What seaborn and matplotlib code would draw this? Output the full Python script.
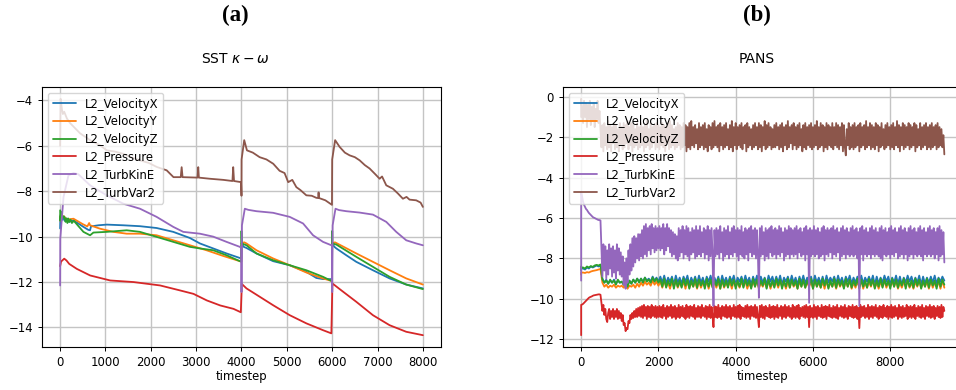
import numpy as np
import pandas as pd
import matplotlib
matplotlib.use("Agg")
import matplotlib.pyplot as plt
import seaborn as sns

# ---------------- data ----------------
series_names = ["L2_VelocityX", "L2_VelocityY", "L2_VelocityZ",
                "L2_Pressure", "L2_TurbKinE", "L2_TurbVar2"]
colors = ["#1f77b4", "#ff7f0e", "#2ca02c", "#d62728", "#9467bd", "#8c564b"]

# (a) SST k-omega : (timestep, value) pairs
vx_a_t = [0, 5, 30, 60, 100, 150, 200, 294, 514, 620, 660, 680, 844, 1028, 1394, 1761, 2128, 2495,
          2862, 3083, 3376, 3670, 3963, 3995, 4000, 4050, 4110, 4330, 4697, 5064, 5431, 5651, 5798,
          5982, 5995, 6000, 6050, 6092, 6312, 6532, 6899, 7266, 7633, 8000]
vx_a_v = [-9.64, -9.1, -9.3, -9.15, -9.3, -9.2, -9.35, -9.28, -9.57, -9.7, -9.72, -9.55, -9.5, -9.47,
          -9.5, -9.54, -9.62, -9.79, -10.06, -10.3, -10.52, -10.74, -10.94, -10.96, -10.3, -10.45,
          -10.5, -10.74, -11.08, -11.26, -11.55, -11.82, -11.87, -11.87, -11.88, -10.3, -10.45,
          -10.52, -10.82, -11.11, -11.48, -11.84, -12.11, -12.28]

vy_a_t = [0, 5, 40, 80, 150, 294, 500, 600, 640, 660, 880, 1174, 1468, 1761, 2128, 2495, 2862, 3229,
          3596, 3963, 3995, 4000, 4060, 4110, 4330, 4697, 5064, 5431, 5798, 5982, 5995, 6000, 6060,
          6110, 6532, 6899, 7266, 7633, 8000]
vy_a_v = [-9.3, -9.1, -9.2, -9.1, -9.25, -9.21, -9.45, -9.55, -9.4, -9.5, -9.65, -9.79, -9.87, -9.87,
          -9.94, -10.16, -10.38, -10.6, -10.85, -11.08, -11.1, -10.3, -10.25, -10.3, -10.6, -10.96,
          -11.26, -11.58, -11.84, -11.95, -11.96, -10.3, -10.25, -10.3, -10.74, -11.11, -11.48,
          -11.84, -12.11]

vz_a_t = [0, 5, 20, 50, 80, 100, 120, 140, 160, 180, 200, 230, 260, 300, 514, 660, 734, 1028, 1468,
          1761, 2128, 2495, 2862, 3083, 3376, 3670, 3963, 3995, 4000, 4005, 4110, 4330, 4697, 5064,
          5431, 5798, 5982, 5995, 6000, 6005, 6092, 6532, 6899, 7266, 7633, 8000]
vz_a_v = [-8.84, -9.3, -8.9, -9.2, -9.1, -9.15, -9.35, -9.2, -9.4, -9.2, -9.35, -9.25, -9.4, -9.3,
          -9.79, -9.94, -9.82, -9.79, -9.72, -9.79, -10.01, -10.23, -10.45, -10.52, -10.6, -10.82,
          -11.08, -11.1, -9.75, -10.3, -10.38, -10.74, -11.04, -11.26, -11.48, -11.77, -11.95,
          -11.96, -9.75, -10.3, -10.35, -10.89, -11.33, -11.77, -12.11, -12.31]

p_a_t = [0, 20, 90, 140, 200, 368, 662, 1103, 1618, 2206, 2647, 2941, 3236, 3530, 3823, 3985, 4000,
         4005, 4110, 4404, 4697, 5064, 5431, 5798, 5982, 6000, 6005, 6165, 6532, 6899, 7266, 7633, 8000]
p_a_v = [-11.3, -11.1, -10.97, -11.05, -11.2, -11.42, -11.71, -11.93, -12.0, -12.15, -12.37, -12.52,
         -12.81, -13.03, -13.18, -13.33, -12.5, -12.08, -12.28, -12.65, -13.02, -13.46, -13.82, -14.12,
         -14.26, -12.5, -12.06, -12.31, -12.87, -13.46, -13.9, -14.19, -14.34]

tke_a_t = [0, 3, 74, 184, 294, 400, 661, 1028, 1394, 1761, 2128, 2495, 2716, 3083, 3376, 3670, 3963,
           3995, 4000, 4010, 4073, 4150, 4330, 4697, 5064, 5358, 5578, 5798, 5982, 5995, 6000, 6010,
           6073, 6150, 6312, 6606, 6899, 7193, 7413, 7633, 7853, 8000]
tke_a_v = [-12.15, -10.1, -8.26, -7.3, -7.2, -7.25, -7.74, -8.18, -8.55, -8.77, -9.13, -9.57, -9.79,
           -9.87, -10.0, -10.23, -10.45, -10.5, -12.44, -9.5, -8.77, -8.82, -8.88, -8.95, -9.13, -9.42,
           -9.94, -10.23, -10.38, -10.4, -12.44, -9.5, -8.77, -8.83, -8.88, -8.94, -9.03, -9.35,
           -9.79, -10.16, -10.3, -10.38]

tv2_a_t = [0, 10, 40, 60, 90, 150, 220, 440, 660, 880, 1030, 1200, 1390, 1560, 1760, 1950, 2130, 2350,
           2500, 2660, 2680, 2700, 3030, 3046, 3060, 3300, 3600, 3800, 3817, 3835, 3990, 4000, 4002,
           4060, 4120, 4250, 4400, 4550, 4700, 4840, 4950, 5030, 5120, 5210, 5300, 5430, 5550, 5650,
           5690, 5700, 5710, 5850, 5995, 6000, 6065, 6165, 6280, 6385, 6500, 6606, 6720, 6826, 6950,
           7046, 7100, 7193, 7339, 7450, 7560, 7640, 7706, 7853, 7950, 8000]
tv2_a_v = [-6.0, -3.93, -4.4, -4.6, -4.5, -4.8, -5.0, -5.45, -5.75, -5.98, -6.2, -6.25, -6.35, -6.5,
           -6.64, -6.75, -6.93, -7.08, -7.38, -7.38, -6.94, -7.38, -7.4, -6.94, -7.4, -7.45, -7.5,
           -7.55, -6.94, -7.55, -7.6, -8.2, -6.6, -5.75, -6.2, -6.3, -6.5, -6.6, -6.79, -7.1, -7.2,
           -7.6, -7.5, -7.82, -7.95, -8.18, -8.2, -8.29, -8.3, -8.05, -8.3, -8.4, -8.6, -6.6, -5.75,
           -6.05, -6.3, -6.42, -6.5, -6.64, -6.85, -7.0, -7.25, -7.45, -7.35, -7.74, -7.89, -8.1,
           -8.33, -8.25, -8.37, -8.4, -8.5, -8.69]

# (b) PANS : velocities sampled every 50 timesteps, the others every 25
# (each list holds two values at timestep 0: before and after the first jump)
timesteps_b50 = [0] + list(range(0, 9401, 50))
timesteps_b25 = [0] + list(range(0, 9401, 25))

vx_b = [-8.6, -8.5,
        -8.5, -8.55, -8.45, -8.5, -8.4, -8.45, -8.4, -8.35, -8.4, -8.35,
        -9.0, -9.2, -9.05, -9.25, -9.1, -9.2, -9.05, -9.25, -9.1, -9.2,
        -9.15, -9.3, -9.2, -9.35, -9.1, -9.25, -9.05, -9.2, -9.0, -9.15,
        -9.0, -9.15, -8.95, -9.1, -9.0, -9.15, -8.9, -9.1, -8.95, -9.15,
        -8.9, -9.2, -8.85, -9.25, -8.95, -9.15, -8.9, -9.3, -8.85, -9.2,
        -8.95, -9.25, -8.9, -9.15, -8.85, -9.3, -8.95, -9.2, -8.9, -9.25,
        -8.85, -9.2, -8.95, -9.3, -8.9, -9.15, -8.85, -9.25, -8.95, -9.2,
        -8.9, -9.3, -8.85, -9.2, -8.95, -9.25, -8.9, -9.15, -8.85, -9.3,
        -8.95, -9.15, -8.9, -9.25, -8.85, -9.2, -8.95, -9.3, -8.9, -9.2,
        -8.85, -9.25, -8.9, -9.2, -8.95, -9.3, -8.85, -9.15, -8.9, -9.25,
        -8.9, -9.2, -8.85, -9.3, -8.95, -9.15, -8.9, -9.25, -8.85, -9.2,
        -8.95, -9.3, -8.9, -9.2, -8.85, -9.25, -8.95, -9.15, -8.9, -9.3,
        -8.85, -9.2, -8.95, -9.25, -8.9, -9.3, -8.85, -9.2, -8.95, -9.15,
        -8.9, -9.25, -8.85, -9.2, -8.95, -9.3, -8.9, -9.15, -8.85, -9.25,
        -8.95, -9.2, -8.9, -9.3, -8.85, -9.25, -8.95, -9.15, -8.9, -9.2,
        -8.85, -9.3, -8.9, -9.25, -8.95, -9.2, -8.85, -9.15, -8.9, -9.3,
        -8.95, -9.2, -8.85, -9.25, -8.9, -9.3, -8.95, -9.2, -8.85, -9.15,
        -8.9, -9.25, -8.95, -9.2, -8.85, -9.3, -8.9, -9.25, -8.95, -9.2,
        -8.9, -9.2, -8.85, -9.25, -8.95, -9.15, -8.9, -9.1]

vy_b = [-8.8, -8.7,
        -8.7, -8.72, -8.68, -8.7, -8.65, -8.62, -8.6, -8.58, -8.55, -8.52,
        -9.2, -9.4, -9.3, -9.45, -9.35, -9.4, -9.3, -9.45, -9.35, -9.4,
        -9.35, -9.45, -9.3, -9.5, -9.35, -9.4, -9.3, -9.45, -9.25, -9.4,
        -9.2, -9.35, -9.15, -9.3, -9.2, -9.35, -9.1, -9.3, -9.15, -9.35,
        -9.15, -9.45, -9.1, -9.4, -9.2, -9.5, -9.15, -9.4, -9.1, -9.45,
        -9.2, -9.4, -9.15, -9.5, -9.1, -9.45, -9.2, -9.4, -9.15, -9.5,
        -9.1, -9.45, -9.2, -9.4, -9.15, -9.5, -9.1, -9.4, -9.2, -9.45,
        -9.15, -9.5, -9.1, -9.45, -9.2, -9.4, -9.15, -9.5, -9.1, -9.4,
        -9.2, -9.45, -9.15, -9.4, -9.1, -9.5, -9.2, -9.45, -9.15, -9.4,
        -9.1, -9.5, -9.2, -9.4, -9.15, -9.45, -9.1, -9.5, -9.2, -9.4,
        -9.15, -9.45, -9.1, -9.4, -9.2, -9.5, -9.15, -9.45, -9.1, -9.4,
        -9.2, -9.5, -9.15, -9.4, -9.1, -9.45, -9.2, -9.4, -9.15, -9.5,
        -9.1, -9.4, -9.2, -9.45, -9.15, -9.5, -9.1, -9.45, -9.2, -9.4,
        -9.15, -9.5, -9.1, -9.4, -9.2, -9.45, -9.15, -9.4, -9.1, -9.5,
        -9.2, -9.45, -9.15, -9.4, -9.1, -9.5, -9.2, -9.45, -9.15, -9.4,
        -9.1, -9.45, -9.2, -9.5, -9.15, -9.4, -9.1, -9.45, -9.2, -9.4,
        -9.15, -9.4, -9.1, -9.5, -9.2, -9.45, -9.15, -9.4, -9.1, -9.45,
        -9.2, -9.5, -9.15, -9.4, -9.1, -9.45, -9.2, -9.4, -9.15, -9.5,
        -9.1, -9.45, -9.2, -9.4, -9.15, -9.5, -9.1, -9.45]

vz_b = [-8.4, -8.45,
        -8.45, -8.5, -8.4, -8.45, -8.38, -8.42, -8.35, -8.32, -8.35, -8.3,
        -9.05, -9.2, -9.1, -9.25, -9.05, -9.2, -9.1, -9.3, -9.05, -9.2,
        -9.15, -9.3, -9.2, -9.4, -9.1, -9.25, -9.05, -9.2, -9.0, -9.2,
        -9.0, -9.2, -8.95, -9.15, -9.05, -9.2, -8.95, -9.15, -9.0, -9.2,
        -9.05, -9.4, -9.0, -9.45, -9.1, -9.35, -9.0, -9.5, -9.05, -9.4,
        -9.1, -9.45, -9.0, -9.35, -9.05, -9.5, -9.1, -9.4, -9.0, -9.45,
        -9.05, -9.35, -9.1, -9.5, -9.0, -9.4, -9.05, -9.45, -9.1, -9.35,
        -9.0, -9.5, -9.05, -9.4, -9.1, -9.45, -9.0, -9.35, -9.05, -9.5,
        -9.1, -9.4, -9.0, -9.45, -9.05, -9.35, -9.1, -9.5, -9.0, -9.4,
        -9.05, -9.45, -9.1, -9.35, -9.0, -9.5, -9.05, -9.4, -9.1, -9.45,
        -9.0, -9.35, -9.05, -9.5, -9.1, -9.4, -9.0, -9.45, -9.05, -9.35,
        -9.1, -9.5, -9.0, -9.4, -9.05, -9.45, -9.1, -9.35, -9.0, -9.5,
        -9.05, -9.4, -9.1, -9.45, -9.0, -9.35, -9.05, -9.5, -9.1, -9.4,
        -9.0, -9.45, -9.05, -9.35, -9.1, -9.5, -9.0, -9.4, -9.05, -9.45,
        -9.1, -9.35, -9.0, -9.5, -9.05, -9.4, -9.1, -9.45, -9.0, -9.35,
        -9.05, -9.5, -9.1, -9.4, -9.0, -9.45, -9.05, -9.35, -9.1, -9.5,
        -9.0, -9.4, -9.05, -9.45, -9.1, -9.35, -9.0, -9.5, -9.05, -9.4,
        -9.1, -9.45, -9.0, -9.35, -9.05, -9.5, -9.1, -9.4, -9.0, -9.45,
        -9.05, -9.35, -9.1, -9.5, -9.0, -9.4, -9.05, -9.3]

p_b = [-11.8, -10.3,
       -10.28, -10.25, -10.2, -10.15, -10.1, -10.05, -10.0, -9.95, -9.92, -9.9,
       -9.88, -9.85, -9.83, -9.82, -9.81, -9.8, -9.79, -9.78, -9.78, -9.8,
       -10.2, -10.6, -10.3, -10.8, -10.5, -11.0, -11.15, -10.7, -10.5, -11.0,
       -10.6, -10.9, -10.5, -11.0, -10.6, -10.9, -10.5, -11.0, -10.6, -10.95,
       -10.7, -11.1, -10.8, -11.3, -11.2, -11.6, -11.45, -11.5, -11.1, -11.2,
       -10.8, -11.0, -10.7, -10.95, -10.6, -10.9, -10.5, -10.9, -10.45, -10.85,
       -10.4, -10.9, -10.35, -10.95, -10.3, -10.85, -10.4, -11.0, -10.35, -10.9,
       -10.4, -10.95, -10.3, -10.85, -10.4, -10.9, -10.35, -10.95, -10.4, -10.9,
       -10.35, -10.9, -10.4, -10.95, -10.3, -10.85, -10.45, -11.0, -10.35, -10.9,
       -10.4, -10.85, -10.3, -10.95, -10.4, -10.9, -10.35, -11.0, -10.45, -10.9,
       -10.3, -10.95, -10.4, -10.85, -10.35, -10.9, -10.45, -11.0, -10.3, -10.9,
       -10.4, -10.95, -10.35, -10.85, -10.4, -10.9, -10.3, -11.0, -10.45, -10.9,
       -10.35, -10.9, -10.4, -10.95, -10.3, -10.85, -10.45, -10.9, -10.35, -11.0,
       -10.4, -10.9, -10.3, -10.95, -10.4, -10.85, -11.4, -10.35, -10.9, -10.4,
       -10.95, -10.3, -10.9, -10.45, -11.0, -10.35, -10.85, -10.4, -10.9, -10.3,
       -10.95, -10.4, -10.9, -10.35, -11.0, -10.45, -10.85, -10.3, -10.9, -10.4,
       -10.95, -10.35, -10.9, -10.3, -11.0, -10.4, -10.85, -10.45, -10.9, -10.35,
       -10.95, -10.3, -10.9, -10.4, -11.0, -10.35, -10.85, -10.4, -10.9, -10.3,
       -10.95, -10.4, -10.9, -11.4, -10.35, -10.9, -10.3, -10.95, -10.4, -11.0,
       -10.35, -10.85, -10.45, -10.9, -10.3, -10.95, -10.4, -10.9, -10.35, -11.0,
       -10.4, -10.9, -10.3, -10.95, -10.45, -10.85, -10.35, -11.0, -10.4, -10.9,
       -10.3, -10.95, -10.4, -10.85, -10.35, -10.9, -10.45, -11.0, -10.3, -10.9,
       -10.4, -10.95, -10.35, -10.9, -10.3, -11.0, -10.45, -10.85, -10.4, -10.9,
       -10.35, -10.95, -10.3, -10.9, -10.4, -11.4, -10.35, -10.9, -10.45, -10.95,
       -10.3, -10.9, -10.4, -11.0, -10.35, -10.85, -10.45, -10.9, -10.3, -10.95,
       -10.4, -10.9, -10.35, -11.0, -10.4, -10.85, -10.3, -10.9, -10.45, -10.95,
       -10.35, -10.9, -10.4, -10.95, -10.3, -11.0, -10.45, -10.85, -10.35, -10.9,
       -10.4, -10.95, -10.3, -10.9, -10.45, -11.0, -10.35, -10.85, -10.4, -10.9,
       -10.3, -10.95, -10.4, -10.9, -10.35, -11.0, -10.45, -11.45, -10.3, -10.9,
       -10.4, -10.85, -10.35, -10.95, -10.45, -10.9, -10.3, -11.0, -10.4, -10.9,
       -10.35, -10.95, -10.4, -10.85, -10.3, -10.9, -10.45, -11.0, -10.35, -10.9,
       -10.4, -10.95, -10.3, -10.85, -10.45, -10.9, -10.35, -11.0, -10.4, -10.9,
       -10.3, -10.95, -10.4, -10.9, -10.35, -10.85, -10.45, -11.0, -10.3, -10.9,
       -10.4, -10.95, -10.35, -10.9, -10.45, -10.85, -10.3, -11.0, -10.4, -10.9,
       -10.35, -10.95, -10.4, -10.9, -10.3, -11.0, -10.45, -10.85, -10.35, -10.9,
       -10.4, -10.95, -10.3, -10.9, -10.45, -11.0, -10.35, -10.85, -10.4, -10.9,
       -10.3, -10.95, -10.4, -10.9, -10.35, -11.0, -10.45, -10.85,
       -10.35, -10.9, -10.4, -10.95, -10.3, -10.9, -10.4, -10.6]

tke_b = [-9.1, -4.7,
         -4.95, -5.2, -5.35, -5.45, -5.55, -5.6, -5.68, -5.75, -5.8, -5.85,
         -5.9, -5.95, -5.98, -6.0, -6.03, -6.05, -6.08, -6.1, -6.1, -6.12,
         -7.5, -8.9, -7.3, -8.6, -7.4, -9.0, -7.6, -8.8, -7.3, -8.5,
         -7.5, -8.9, -7.4, -8.7, -7.6, -9.0, -7.3, -8.6, -7.5, -8.8,
         -7.7, -8.9, -7.9, -9.3, -8.2, -9.5, -8.0, -9.2, -7.6, -8.8,
         -7.3, -8.6, -7.0, -8.4, -6.9, -8.2, -7.0, -8.0, -6.8, -8.1,
         -6.8, -7.9, -6.6, -8.0, -6.4, -7.8, -6.3, -7.9, -6.5, -7.6,
         -6.4, -7.8, -6.3, -7.5, -6.5, -7.7, -6.4, -7.6, -6.5, -7.5,
         -6.4, -7.6, -6.5, -7.5, -6.3, -7.8, -6.5, -7.6, -6.3, -7.4,
         -6.5, -7.7, -6.6, -7.9, -6.7, -7.8, -6.8, -8.0, -6.9, -8.1,
         -6.5, -7.9, -6.6, -7.7, -6.4, -8.0, -6.6, -7.8, -6.4, -7.9,
         -6.5, -8.1, -6.7, -7.8, -6.5, -7.7, -6.6, -8.0, -6.4, -7.9,
         -6.6, -7.8, -6.4, -7.9, -6.7, -7.7, -6.5, -8.0, -6.6, -7.8,
         -6.4, -8.1, -6.6, -7.9, -6.5, -7.8, -10.35, -6.6, -7.9, -6.5,
         -7.8, -6.6, -8.0, -6.4, -7.7, -6.7, -8.1, -6.5, -7.9, -6.6,
         -7.8, -6.4, -8.0, -6.7, -7.8, -6.5, -7.9, -6.4, -7.7, -6.6,
         -7.9, -6.5, -8.1, -6.6, -7.8, -6.4, -7.9, -6.7, -8.0, -6.5,
         -7.8, -6.6, -8.1, -6.5, -7.7, -6.4, -7.9, -6.6, -7.8, -6.5,
         -8.0, -6.6, -7.8, -9.95, -6.5, -7.9, -6.4, -7.8, -6.7, -8.1,
         -6.5, -7.9, -6.6, -8.0, -6.5, -7.7, -6.4, -7.9, -6.6, -7.8,
         -6.5, -8.0, -6.6, -7.8, -6.4, -7.9, -6.5, -7.7, -6.7, -8.1,
         -6.5, -7.9, -6.6, -7.8, -6.4, -8.0, -6.5, -7.8, -6.6, -7.9,
         -6.5, -7.8, -6.4, -8.0, -6.6, -7.7, -6.5, -7.9, -6.7, -7.8,
         -6.5, -8.1, -6.4, -7.8, -6.6, -10.2, -6.5, -7.9, -6.6, -7.8,
         -6.4, -7.9, -6.6, -7.8, -6.5, -8.0, -6.7, -7.9, -6.5, -7.8,
         -6.4, -8.1, -6.6, -7.8, -6.5, -7.9, -6.6, -7.7, -6.5, -8.0,
         -6.4, -7.8, -6.6, -7.9, -6.5, -7.7, -6.7, -8.1, -6.5, -7.9,
         -6.4, -7.8, -6.6, -8.0, -6.5, -7.8, -6.7, -7.9, -6.5, -7.8,
         -6.4, -7.9, -6.6, -7.8, -6.5, -8.0, -6.7, -10.35, -6.5, -7.8,
         -6.4, -8.1, -6.6, -7.8, -6.5, -7.9, -6.7, -7.8, -6.5, -8.0,
         -6.4, -7.8, -6.6, -7.9, -6.5, -7.8, -6.7, -7.9, -6.5, -8.0,
         -6.4, -8.1, -6.6, -7.8, -6.5, -7.9, -6.7, -7.8, -6.5, -8.0,
         -6.4, -7.8, -6.6, -7.9, -6.5, -7.7, -6.7, -8.0, -6.5, -7.9,
         -6.4, -7.8, -6.6, -8.0, -6.5, -7.8, -6.7, -8.1, -6.5, -7.9,
         -6.4, -7.8, -6.6, -8.0, -6.5, -7.8, -6.7, -7.9, -6.5, -7.8,
         -6.4, -7.9, -6.6, -8.1, -6.5, -7.8, -6.7, -7.9, -6.5, -7.8,
         -6.4, -7.9, -6.6, -7.8, -6.5, -8.0, -6.7, -7.8,
         -6.5, -8.1, -6.4, -7.9, -6.6, -7.8, -6.7, -8.2]

tv2_b = [-1.0, -0.1,
         -0.6, -1.3, -0.2, -1.0, -0.3, -1.5, -0.4, -1.1, -0.2, -1.4,
         -0.5, -1.2, -0.3, -1.5, -0.6, -1.1, -0.2, -1.3, -0.7, -1.6,
         -2.5, -1.4, -2.7, -1.3, -2.4, -1.5, -2.6, -1.2, -2.5, -1.4,
         -2.7, -1.5, -2.3, -1.3, -2.6, -1.4, -2.5, -1.6, -2.7, -1.3,
         -2.4, -1.5, -2.6, -1.3, -2.5, -1.4, -2.3, -1.2, -2.6, -1.5,
         -2.4, -1.3, -2.7, -1.4, -2.5, -1.6, -2.4, -1.3, -2.6, -1.5,
         -2.5, -1.3, -2.4, -1.5, -2.7, -1.4, -2.5, -1.2, -2.4, -1.6,
         -2.6, -1.3, -2.5, -1.5, -2.3, -1.4, -2.6, -1.3, -2.5, -1.4,
         -2.6, -1.5, -2.4, -1.3, -2.5, -1.4, -2.7, -1.5, -2.3, -1.3,
         -2.6, -1.2, -2.5, -1.4, -2.4, -1.6, -2.6, -1.5, -2.5, -1.3,
         -2.4, -1.4, -2.6, -1.5, -2.5, -1.3, -2.4, -1.4, -2.7, -1.5,
         -2.5, -1.3, -2.6, -1.2, -2.4, -1.5, -2.5, -1.4, -2.3, -1.6,
         -2.6, -1.3, -2.5, -1.5, -2.4, -1.4, -2.6, -1.3, -2.5, -1.6,
         -2.7, -1.4, -2.4, -1.5, -2.6, -1.3, -2.5, -1.2, -2.4, -1.5,
         -2.5, -1.4, -2.7, -1.3, -2.4, -1.5, -2.6, -1.4, -2.5, -1.3,
         -2.4, -1.6, -2.6, -1.4, -2.5, -1.2, -2.7, -1.5, -2.4, -1.3,
         -2.6, -1.5, -2.4, -1.4, -2.5, -1.3, -2.6, -1.5, -2.3, -1.4,
         -2.7, -1.3, -2.5, -1.5, -2.4, -1.6, -2.6, -1.4, -2.5, -1.3,
         -2.4, -1.5, -2.6, -1.3, -2.5, -1.4, -2.7, -1.5, -2.4, -1.2,
         -2.6, -1.4, -2.5, -1.3, -2.4, -1.5, -2.6, -1.6, -2.5, -1.4,
         -2.5, -1.3, -2.4, -1.5, -2.6, -1.4, -2.5, -1.3, -2.7, -1.5,
         -2.4, -1.4, -2.6, -1.2, -2.5, -1.5, -2.3, -1.4, -2.6, -1.3,
         -2.4, -1.5, -2.6, -1.4, -2.5, -1.3, -2.4, -1.6, -2.7, -1.4,
         -2.5, -1.3, -2.6, -1.5, -2.4, -1.4, -2.5, -1.3, -2.6, -1.5,
         -2.5, -1.4, -2.4, -1.2, -2.6, -1.5, -2.5, -1.3, -2.4, -1.4,
         -2.7, -1.5, -2.5, -1.3, -2.6, -1.4, -2.4, -1.5, -2.5, -1.3,
         -2.6, -1.5, -2.4, -1.3, -2.5, -1.4, -2.6, -1.5, -2.4, -1.3,
         -2.7, -1.4, -2.5, -2.9, -1.6, -2.4, -1.3, -2.6, -1.5, -2.5,
         -1.4, -2.6, -1.3, -2.5, -1.5, -2.4, -1.4, -2.7, -1.3, -2.5,
         -1.5, -2.4, -1.4, -2.6, -1.2, -2.5, -1.5, -2.4, -1.3, -2.6,
         -1.4, -2.5, -1.5, -2.6, -1.3, -2.4, -1.4, -2.7, -1.5, -2.5,
         -1.3, -2.4, -1.6, -2.6, -1.4, -2.5, -1.3, -2.4, -1.5, -2.6,
         -1.4, -2.5, -1.3, -2.6, -1.5, -2.4, -1.2, -2.5, -1.4, -2.7,
         -1.5, -2.4, -1.3, -2.6, -1.4, -2.5, -1.5, -2.4, -1.3, -2.6,
         -1.4, -2.5, -1.5, -2.4, -1.3, -2.7, -1.4, -2.5, -1.6, -2.4,
         -1.3, -2.6, -1.5, -2.5, -1.4, -2.4, -1.3, -2.6, -1.5, -2.5,
         -1.4, -2.6, -1.3, -2.5, -1.5, -2.4, -1.4, -2.6,
         -1.3, -2.5, -1.5, -2.4, -1.6, -2.5, -1.9, -2.85]

assert len(vx_b) == len(vy_b) == len(vz_b) == len(timesteps_b50), (len(vx_b), len(vy_b), len(vz_b))
assert len(p_b) == len(tke_b) == len(tv2_b) == len(timesteps_b25), (len(p_b), len(tke_b), len(tv2_b))

# ---------------- tables ----------------
def long_table(pairs):
    frames = []
    for name, (t, v) in zip(series_names, pairs):
        frames.append(pd.DataFrame({"timestep": t, "value": v, "series": name}))
    return pd.concat(frames, ignore_index=True)

df_a = long_table([(vx_a_t, vx_a_v), (vy_a_t, vy_a_v), (vz_a_t, vz_a_v),
                   (p_a_t, p_a_v), (tke_a_t, tke_a_v), (tv2_a_t, tv2_a_v)])
df_b = long_table([(timesteps_b50, vx_b), (timesteps_b50, vy_b), (timesteps_b50, vz_b),
                   (timesteps_b25, p_b), (timesteps_b25, tke_b), (timesteps_b25, tv2_b)])

# ---------------- style ----------------
sns.set_style("ticks")
plt.rcParams.update({
    "font.family": ["DejaVu Sans"],
    "path.simplify": False,
    "axes.edgecolor": "black",
    "axes.linewidth": 0.8,
    "xtick.color": "black",
    "ytick.color": "black",
    "xtick.major.size": 3,
    "ytick.major.size": 3,
    "xtick.major.width": 0.7,
    "ytick.major.width": 0.7,
    "xtick.labelsize": 8.4,
    "ytick.labelsize": 8.4,
    "axes.labelsize": 8.4,
    "text.color": "black",
    "axes.labelcolor": "black",
})

W, H = 956, 390
fig = plt.figure(figsize=(W / 100, H / 100), dpi=100)
ax_a = fig.add_axes([42 / W, (H - 347) / H, (441 - 42) / W, (347 - 87) / H])
ax_b = fig.add_axes([563 / W, (H - 347) / H, (962.5 - 563) / W, (347 - 87) / H])

palette = dict(zip(series_names, colors))
for ax, df in ((ax_a, df_a), (ax_b, df_b)):
    sns.lineplot(data=df, x="timestep", y="value", hue="series", hue_order=series_names,
                 palette=palette, estimator=None, sort=False, lw=1.3, ax=ax)
    ax.grid(True, color="#c4c4c4", lw=1.0)
    ax.set_axisbelow(True)
    ax.set_xlabel("timestep", labelpad=1)
    ax.set_ylabel("")
    handles, labels = ax.get_legend_handles_labels()
    ax.legend(handles, labels, loc="upper left", fontsize=8.4, framealpha=0.8,
              edgecolor="#cccccc", fancybox=True, labelspacing=0.4)

ax_a.set_xticks([0, 1000, 2000, 3000, 4000, 5000, 6000, 7000, 8000])
ax_a.set_yticks([-14, -12, -10, -8, -6, -4])
ax_b.set_xticks([0, 2000, 4000, 6000, 8000])
ax_b.set_yticks([-12, -10, -8, -6, -4, -2, 0])

fig.text(235 / W, 1 - 15 / H, "(a)", ha="center", va="center",
         family=["Liberation Serif"], weight="bold", size=16.5)
fig.text(757 / W, 1 - 15 / H, "(b)", ha="center", va="center",
         family=["Liberation Serif"], weight="bold", size=16.5)
fig.text(235 / W, 1 - 59 / H, r"SST $\kappa-\omega$", ha="center", va="center", size=10)
fig.text(757 / W, 1 - 59 / H, "PANS", ha="center", va="center", size=10)

fig.savefig("out.png", dpi=100)
